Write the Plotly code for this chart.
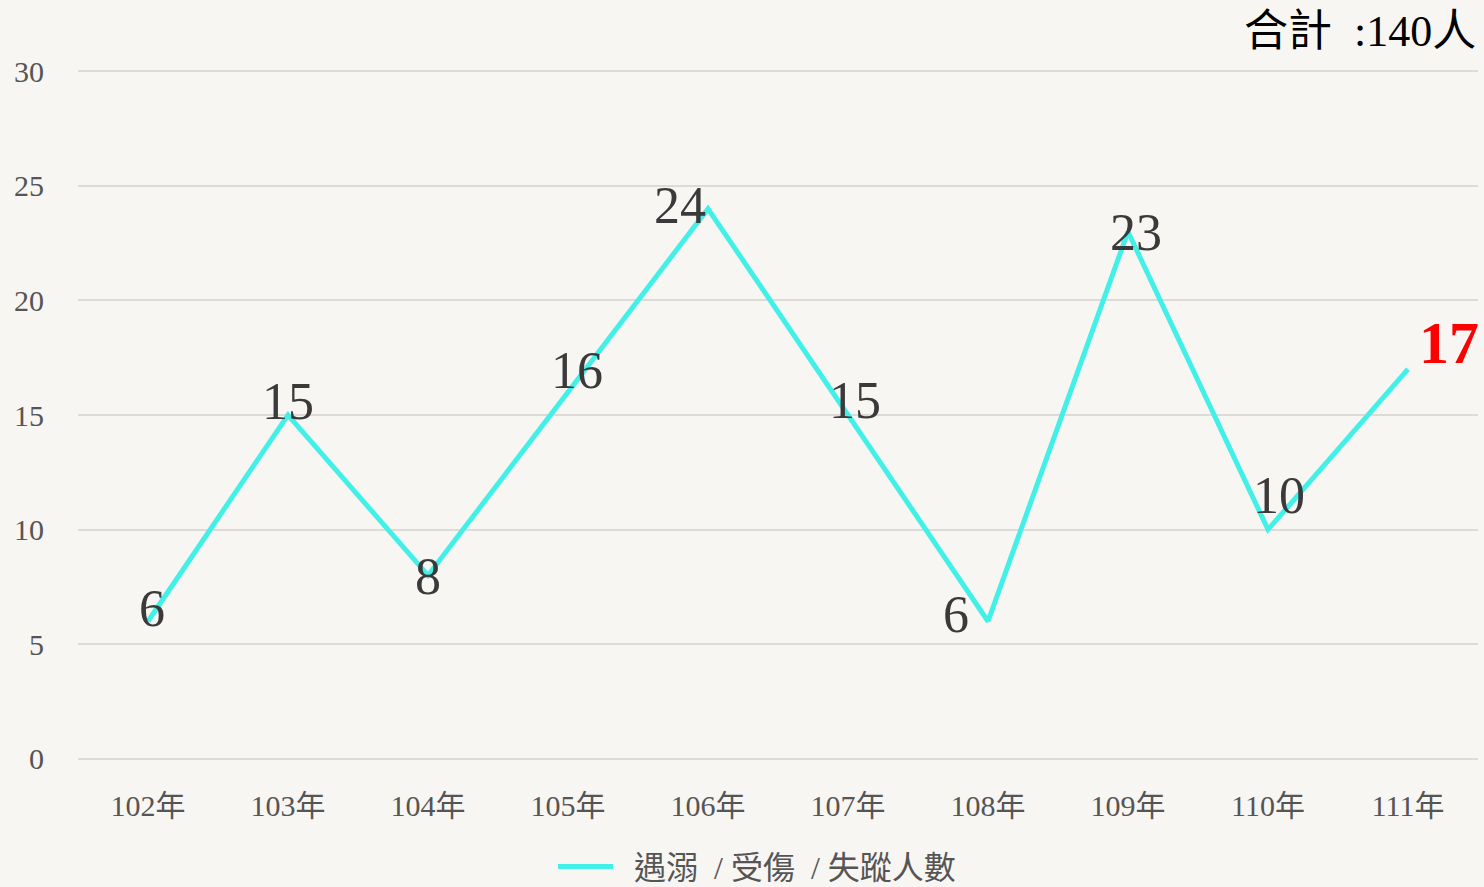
import plotly.graph_objects as go

years = ["102年", "103年", "104年", "105年", "106年", "107年", "108年", "109年", "110年", "111年"]
counts = [6, 15, 8, 16, 24, 15, 6, 23, 10, 17]
series_name = "\u00a0\u00a0遇溺  / 受傷  / 失蹤人數"
total_text = "合計\u00a0\u00a0:140人"
y_ticks = [0, 5, 10, 15, 20, 25, 30]
# per-label nudges (pixels) as placed in the original chart
label_dx = [4, 0, 0, 9, -28, 7, -32, 8, 11, 41]
label_dy = [12, 13, -2, 21, 2, 14, 6, -2, 33, 25]

SERIF = "Palatino Linotype, Liberation Serif, DejaVu Serif, Noto Sans CJK TC, serif"
TITLE_FONT = "Liberation Serif, Noto Sans CJK TC, serif"

fig = go.Figure()
fig.add_trace(go.Scatter(
    x=years, y=counts, mode="lines", name=series_name,
    line=dict(color="#42F0E8", width=5),
))

# data labels
for i, (x, y) in enumerate(zip(years, counts)):
    last = i == len(years) - 1
    fig.add_annotation(
        x=x, y=y, xref="x", yref="y", text=f"<b>{y}</b>" if last else str(y),
        showarrow=False, xanchor="center", yanchor="middle",
        font=dict(family=SERIF, size=60 if last else 52,
                  color="#FF0000" if last else "#3A3A3A"),
        xshift=label_dx[i], yshift=label_dy[i] + 1,
    )

fig.add_annotation(
    x=1, y=1, xref="paper", yref="paper", xanchor="right", yanchor="middle",
    text=total_text, showarrow=False, xshift=0, yshift=38,
    font=dict(family=TITLE_FONT, size=44, color="#000000"),
)

fig.update_layout(
    width=1484, height=887,
    paper_bgcolor="#F8F6F3", plot_bgcolor="#F8F6F3",
    margin=dict(l=78, r=6, t=69, b=126, autoexpand=False),
    showlegend=True,
    legend=dict(orientation="h", x=0.485, xanchor="center", y=-0.113, yanchor="top",
                font=dict(family=SERIF, size=32, color="#555555"), itemwidth=55,
                bgcolor="rgba(0,0,0,0)"),
    xaxis=dict(showgrid=False, showline=False, zeroline=False,
               tickfont=dict(family=SERIF, size=30, color="#555555"),
               ticks="", range=[-0.5, 9.5], ticklabelstandoff=24),
    yaxis=dict(range=[-0.1, 30.1], tickvals=y_ticks, showgrid=True, gridcolor="#DDDBD8",
               gridwidth=1.5, zeroline=False, showline=False,
               tickfont=dict(family=SERIF, size=30, color="#555555"), ticks="",
               ticklabelstandoff=33),
)

fig.write_html("out.html", config={"displayModeBar": False},
               post_script="document.body.style.margin='0';document.body.style.background='#F8F6F3';")
